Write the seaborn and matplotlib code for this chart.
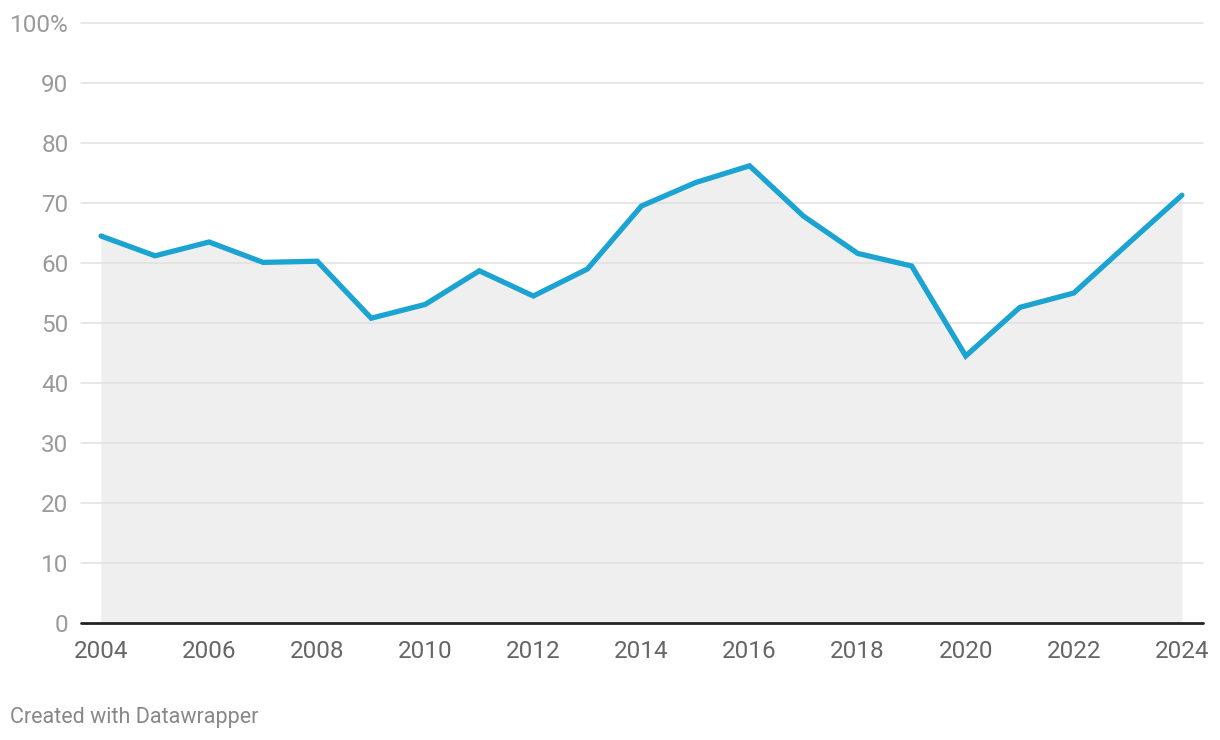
import matplotlib
matplotlib.use("Agg")
import matplotlib.pyplot as plt
import seaborn as sns
import pandas as pd

years = list(range(2004, 2025))
values = [64.5, 61.2, 63.5, 60.1, 60.3, 50.8, 53.1, 58.7, 54.5, 59.0,
          69.5, 73.4, 76.2, 67.8, 61.6, 59.5, 44.5, 52.6, 55.0, 63.2, 71.3]
y_ticks = [0, 10, 20, 30, 40, 50, 60, 70, 80, 90, 100]
y_tick_labels = ["0", "10", "20", "30", "40", "50", "60", "70", "80", "90", "100%"]
x_ticks = [2004, 2006, 2008, 2010, 2012, 2014, 2016, 2018, 2020, 2022, 2024]
footer = "Created with Datawrapper"

df = pd.DataFrame({"year": years, "value": values})

sns.set_theme(style="white")
plt.rcParams["font.family"] = ["Roboto", "DejaVu Sans"]

fig = plt.figure(figsize=(12.2, 7.4), dpi=100)
ax = fig.add_axes([81 / 1220, 1 - 623 / 740, (1203 - 81) / 1220, 600 / 740])

ax.fill_between(df["year"], 0, df["value"], color="#efefef", linewidth=0, zorder=1)
sns.lineplot(data=df, x="year", y="value", ax=ax, color="#1ba3d1", linewidth=3.8,
             solid_joinstyle="miter", solid_capstyle="round", zorder=3)

ax.set_xlim(2003.63, 2024.39)
ax.set_ylim(0, 100)
ax.set_yticks(y_ticks)
ax.set_yticklabels(y_tick_labels)
ax.set_xticks(x_ticks)
ax.set_xticklabels([str(x) for x in x_ticks])

for t in y_ticks[1:]:
    ax.axhline(t, color="#e0e0e0", linewidth=1.1, zorder=2, clip_on=False)
ax.axhline(0, color="#222222", linewidth=2, zorder=4, clip_on=False)

for s in ax.spines.values():
    s.set_visible(False)

ax.tick_params(axis="y", length=0, pad=9, labelsize=17.5, labelcolor="#9a9a9a")
ax.tick_params(axis="x", length=0, pad=12, labelsize=17.5, labelcolor="#666666")
ax.set_xlabel("")
ax.set_ylabel("")

fig.text(10 / 1220, 1 - 717 / 740, footer, fontsize=15.5, color="#888888",
         ha="left", va="center")

fig.savefig("out.png", dpi=100)
